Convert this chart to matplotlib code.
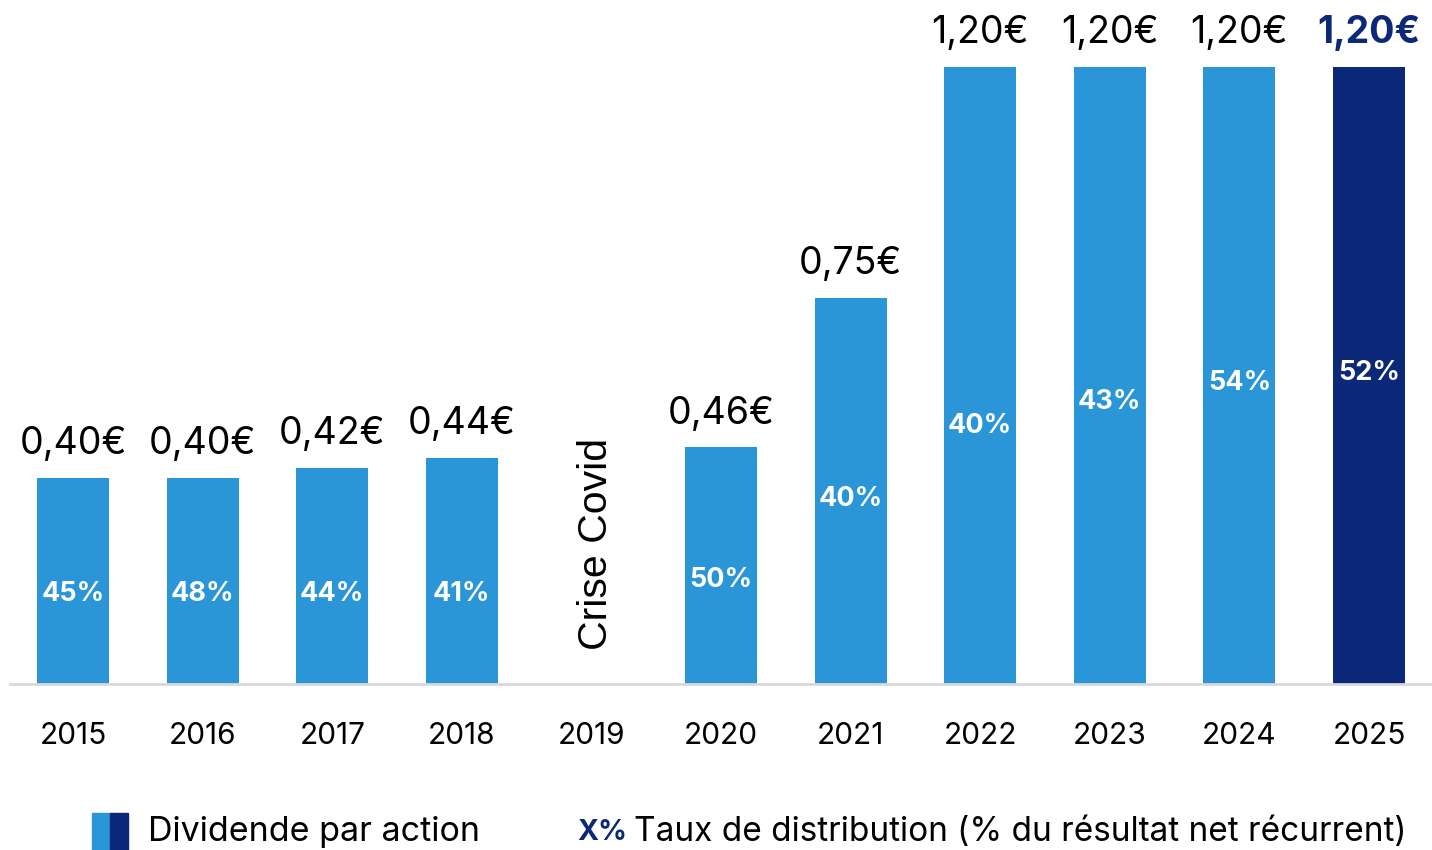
import matplotlib
matplotlib.use('Agg')
import matplotlib.pyplot as plt
from matplotlib.patches import Rectangle

plt.rcParams['font.family'] = ['Inter', 'DejaVu Sans']

# ------------------------------------------------------------------
# Data
# ------------------------------------------------------------------
years = ["2015", "2016", "2017", "2018", "2019", "2020",
         "2021", "2022", "2023", "2024", "2025"]
dividends = [0.40, 0.40, 0.42, 0.44, None, 0.46, 0.75, 1.20, 1.20, 1.20, 1.20]
dividend_labels = ["0,40€", "0,40€", "0,42€", "0,44€", "", "0,46€",
                   "0,75€", "1,20€", "1,20€", "1,20€", "1,20€"]
payout = ["45%", "48%", "44%", "41%", "", "50%",
          "40%", "40%", "43%", "54%", "52%"]
# vertical placement of the payout labels inside the bars (data units)
payout_y = [0.176, 0.176, 0.176, 0.176, None, 0.203,
            0.359, 0.501, 0.549, 0.586, 0.604]

LIGHT = "#2A96D7"
NAVY = "#0C2878"

fig = plt.figure(figsize=(14.32, 8.5), dpi=100)
ax = fig.add_axes([10 / 1432, 166 / 850, 1422 / 1432, 684 / 850])

x = list(range(len(years)))
for i, v in enumerate(dividends):
    if v is None:
        continue
    last = i == len(years) - 1
    col = NAVY if last else LIGHT
    ax.bar(i, v, width=0.556, color=col, zorder=2)
    ax.text(i, v + 0.031, dividend_labels[i], ha="center", va="bottom",
            fontsize=27, color=NAVY if last else "black",
            fontweight="bold" if last else "normal")
    ax.text(i, payout_y[i], payout[i], ha="center", va="center",
            fontsize=19.5, color="white", fontweight="bold")

# Covid year annotation
ax.text(4.035, 0.066, "Crise Covid", rotation=90, ha="center", va="bottom",
        fontsize=29.5, family="Liberation Sans", color="black")

ax.set_xlim(-0.486, 10.486)
ax.set_ylim(0, 684 / 514.2)
ax.set_xticks(x)
ax.set_xticklabels(years, fontsize=21.5)
ax.tick_params(axis="x", length=0, pad=27)
ax.set_yticks([])
for side in ["top", "right", "left"]:
    ax.spines[side].set_visible(False)
ax.spines["bottom"].set_color("#d9d9d9")
ax.spines["bottom"].set_linewidth(2)

# ------------------------------------------------------------------
# Custom legend at the bottom
# ------------------------------------------------------------------
fig.patches.append(Rectangle((92 / 1432, 0), 18 / 1432, 37 / 850,
                             transform=fig.transFigure, color=LIGHT))
fig.patches.append(Rectangle((110 / 1432, 0), 18 / 1432, 37 / 850,
                             transform=fig.transFigure, color=NAVY))
fig.text(148 / 1432, 18 / 850, "Dividende par action", fontsize=24.5,
         ha="left", va="center")
fig.text(577 / 1432, 18 / 850, "X%", fontsize=20.5, fontweight="bold",
         color=NAVY, ha="left", va="center")
fig.text(634 / 1432, 18 / 850,
         "Taux de distribution (% du résultat net récurrent)",
         fontsize=24, ha="left", va="center")

plt.savefig("out.png", dpi=100)
